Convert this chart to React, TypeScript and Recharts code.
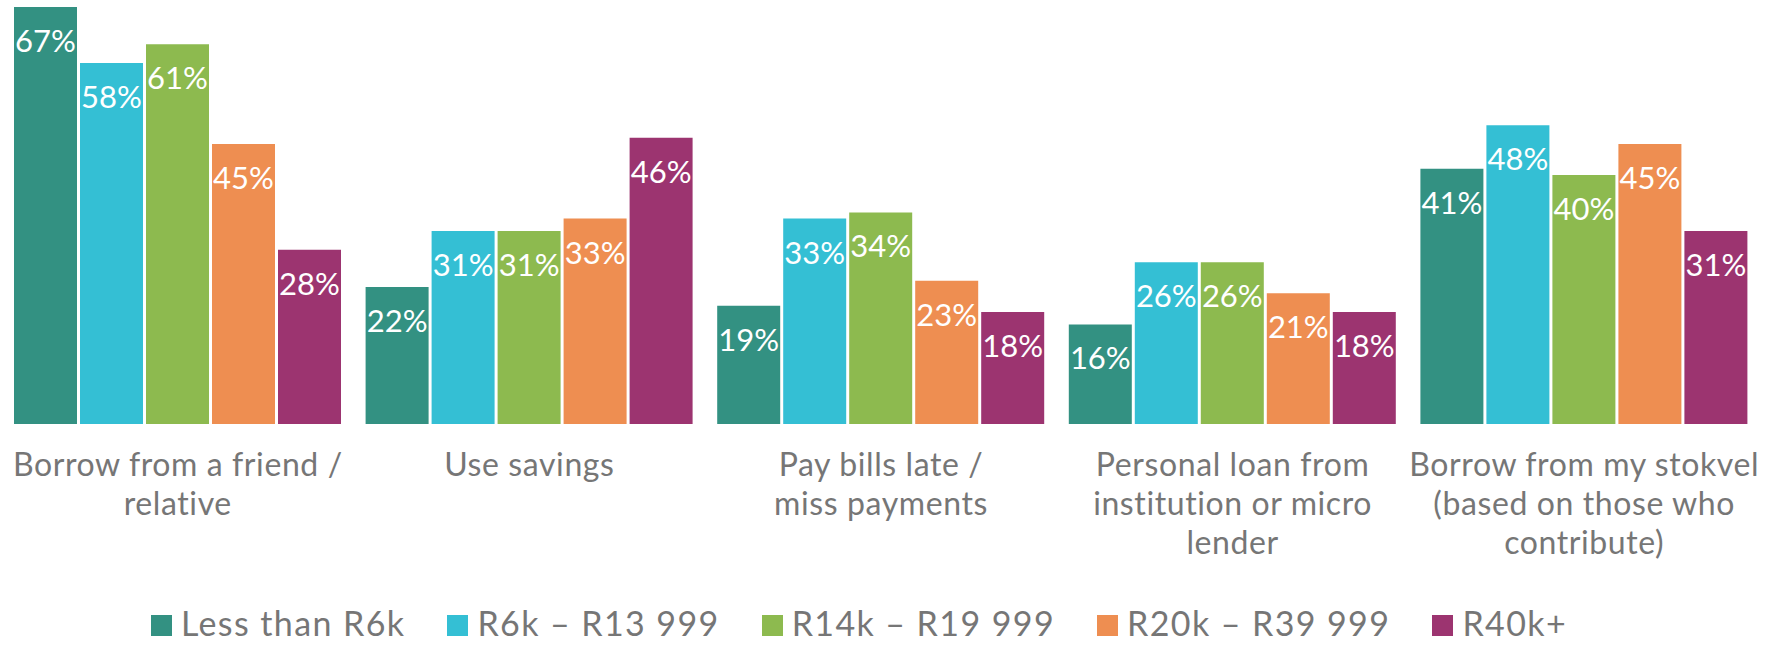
import React from 'react';
import { BarChart, Bar, XAxis, YAxis, LabelList } from 'recharts';

const categoryLines: string[][] = [
  ['Borrow from a friend /', 'relative'],
  ['Use savings'],
  ['Pay bills late /', 'miss payments'],
  ['Personal loan from', 'institution or micro', 'lender'],
  ['Borrow from my stokvel', '(based on those who', 'contribute)'],
];

const seriesNames = ['Less than R6k', 'R6k – R13 999', 'R14k – R19 999', 'R20k – R39 999', 'R40k+'];

const lessThanR6k = [67, 22, 19, 16, 41];
const r6kToR13999 = [58, 31, 33, 26, 48];
const r14kToR19999 = [61, 31, 34, 26, 40];
const r20kToR39999 = [45, 33, 23, 21, 45];
const r40kPlus = [28, 46, 18, 18, 31];

const seriesValues = [lessThanR6k, r6kToR13999, r14kToR19999, r20kToR39999, r40kPlus];
const seriesColors = ['#339182', '#34BFD4', '#8DBA4F', '#EE8E51', '#9C3470'];
const seriesKeys = ['s0', 's1', 's2', 's3', 's4'];

const data = categoryLines.map((lines, i) => {
  const row: Record<string, string | number> = { category: lines.join('\n') };
  seriesKeys.forEach((k, j) => {
    row[k] = seriesValues[j][i];
  });
  return row;
});

const FONT = 'Lato, "Open Sans", sans-serif';

const CategoryTick = (props: any) => {
  const { x, y, payload } = props;
  const lines = String(payload.value).split('\n');
  return (
    <g>
      <text x={x} y={y} textAnchor="middle" fill="#767676" fontSize={32} fontFamily={FONT} letterSpacing={0.6}>
        {lines.map((l, i) => (
          <tspan key={i} x={x} dy={i === 0 ? 52 : 39}>
            {l}
          </tspan>
        ))}
      </text>
    </g>
  );
};

const renderValueLabel = (props: any) => {
  const { x, y, width, value } = props;
  return (
    <text
      x={Number(x) + Number(width) / 2}
      y={Number(y) + 45}
      textAnchor="middle"
      fill="#ffffff"
      fontSize={31}
      fontFamily={FONT}
    >
      {value}%
    </text>
  );
};

export default function App() {
  return (
    <div style={{ position: 'absolute', left: 0, top: 0, width: 1783, height: 645, background: '#fff' }}>
      <BarChart
        width={1783}
        height={645}
        data={data}
        margin={{ top: 7, right: 23, bottom: 0, left: 2 }}
        barGap={3}
        barSize={63}
      >
        <XAxis
          dataKey="category"
          axisLine={false}
          tickLine={false}
          tickSize={0}
          tickMargin={0}
          height={221}
          interval={0}
          tick={<CategoryTick />}
        />
        <YAxis hide domain={[0, 67]} />
        {seriesKeys.map((k, j) => (
          <Bar key={k} dataKey={k} name={seriesNames[j]} fill={seriesColors[j]} isAnimationActive={false}>
            <LabelList dataKey={k} content={renderValueLabel} />
          </Bar>
        ))}
      </BarChart>
      <div
        style={{
          position: 'absolute',
          top: 603,
          left: 0,
          width: 1718,
          display: 'flex',
          justifyContent: 'center',
          gap: 42,
          fontFamily: FONT,
          fontSize: 34,
          color: '#767676',
          lineHeight: '40px',
          height: 40,
          letterSpacing: 1.4,
        }}
      >
        {seriesNames.map((n, j) => (
          <div key={n} style={{ display: 'flex', alignItems: 'center', gap: 9, height: 40 }}>
            <div style={{ width: 21, height: 21, background: seriesColors[j], marginTop: 5 }} />
            <span style={{ whiteSpace: 'nowrap' }}>{n}</span>
          </div>
        ))}
      </div>
    </div>
  );
}
